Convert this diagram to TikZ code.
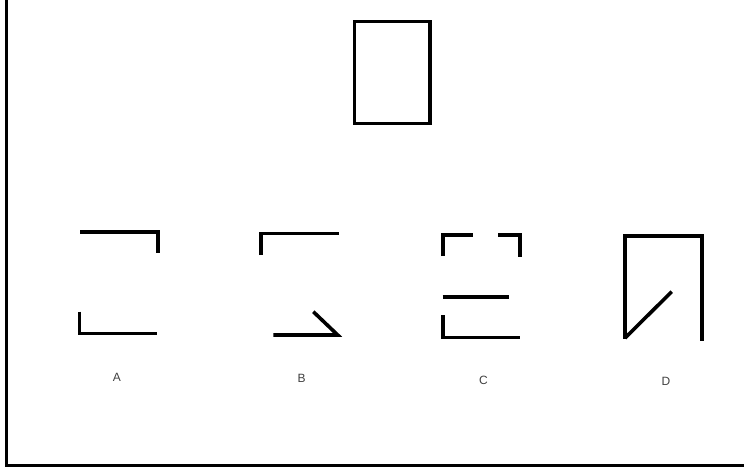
\documentclass[tikz,border=0pt]{standalone}
\usepackage{fontspec}
\setmainfont{Liberation Sans}
\begin{document}
\begin{tikzpicture}[x=1pt,y=-1pt,
  fig/.style={line width=3.6pt, line join=miter, black},
  frame/.style={line width=3pt, black},
  lbl/.style={font=\fontsize{12}{14}\selectfont, text=black!75, inner sep=0pt, anchor=center}]
\useasboundingbox (0,0) rectangle (744,468);
% frame (left and bottom)
\draw[frame] (6.8,0) -- (6.8,465) -- (744,465);
% top rectangle
\draw[fig] (354.5,21.5) rectangle (430,123.5);
% A
\draw[fig] (80,231.7) -- (157.7,231.7) -- (157.7,253.3);
\draw[fig] (79.3,311.7) -- (79.3,333.3) -- (157.3,333.3);
% B
\draw[fig] (261,255) -- (261,233.3) -- (339,233.3);
\draw[fig] (273.3,335) -- (337.7,335) -- (313.3,311.7);
% C
\draw[fig] (442.7,256) -- (442.7,235) -- (473.3,235);
\draw[fig] (498.3,235) -- (520,235) -- (520,256.5);
\draw[fig] (442.7,296.7) -- (509,296.7);
\draw[fig] (442.7,315) -- (442.7,337.3) -- (520,337.3);
% D
\draw[fig] (625,338.5) -- (625,235.7) -- (701.7,235.7) -- (701.7,340.7);
\draw[fig] (625,338) -- (671.7,291.7);
% labels
\node[lbl] (la) at (117,377) {A};
\node[lbl] (lb) at (301.5,378.5) {B};
\node[lbl] (lc) at (483.5,380.5) {C};
\node[lbl] (ld) at (666,381.5) {D};
\end{tikzpicture}
\end{document}
